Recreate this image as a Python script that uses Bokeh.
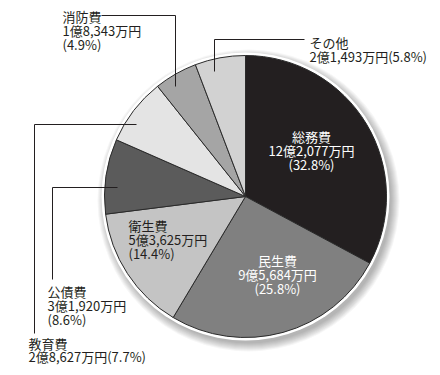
import math
from bokeh.plotting import figure
from bokeh.models import Range1d, ColumnDataSource
from bokeh.core.properties import value
from bokeh.embed import file_html
from bokeh.resources import INLINE

# ---- data ----
categories = ["総務費", "民生費", "衛生費", "公債費", "教育費", "消防費", "その他"]
amounts_man = [122077, 95684, 53625, 31920, 28627, 18343, 21493]   # 万円
percents = [32.8, 25.8, 14.4, 8.6, 7.7, 4.9, 5.8]
colors = ["#231f20", "#808080", "#c4c4c4", "#5b5b5b", "#e4e4e4", "#a5a5a5", "#d2d2d2"]

FONT = value("Noto Sans CJK JP")
W, H = 432, 367

p = figure(width=W, height=H, output_backend="svg", toolbar_location=None,
           x_range=Range1d(0, W), y_range=Range1d(-H, 0),
           min_border=0, outline_line_color=None)
p.axis.visible = False
p.grid.visible = False
p.background_fill_color = "white"

cx, cy, r = 245, -196, 141

# shadow
for i in range(9):
    p.circle(x=cx + 3, y=cy - 4, radius=r + 2 + i, fill_color="black",
             fill_alpha=0.035, line_color=None)
p.circle(x=cx, y=cy, radius=r + 3, fill_color="white", line_color=None)

total = sum(amounts_man)
starts, ends = [], []
acc = 0.0
for v in amounts_man:
    a0 = math.pi / 2 - 2 * math.pi * acc / total
    acc += v
    a1 = math.pi / 2 - 2 * math.pi * acc / total
    starts.append(a0)
    ends.append(a1)

src = ColumnDataSource(dict(start=starts, end=ends, color=colors, cat=categories))
p.wedge(x=cx, y=cy, radius=r, start_angle="start", end_angle="end",
        direction="clock", fill_color="color", line_color="#2a2a2a",
        line_width=1, source=src)


def fmt_amount(v):
    oku, man = divmod(v, 10000)
    return f"{oku}億{man:,}万円"


labels = []
for c, v, pc in zip(categories, amounts_man, percents):
    if c in ("その他", "教育費"):
        labels.append([c, f"{fmt_amount(v)}({pc}%)"])
    else:
        labels.append([c, fmt_amount(v), f"({pc}%)"])

# label layout (x, first-line centre y, align, color)
layout = {
    "総務費": (311, 136, "center", "white"),
    "民生費": (277, 259.5, "center", "white"),
    "衛生費": (128, 225, "left", "#231f20"),
    "公債費": (47, 291, "left", "#231f20"),
    "教育費": (28, 343, "left", "#231f20"),
    "消防費": (62, 15.5, "left", "#231f20"),
    "その他": (309, 42, "left", "#231f20"),
}
LS = 14
for c, lines in zip(categories, labels):
    x, y, al, col = layout[c]
    ls = 13 if c == "教育費" else LS
    p.text(x=[x] * len(lines), y=[-(y + i * ls) for i in range(len(lines))],
           text=lines, text_font=FONT, text_font_size="13px",
           text_align=al, text_baseline="middle", text_color=col)

# leader lines
leaders_x = [[101, 175, 175], [304, 214, 214], [52, 52, 117], [34, 34, 136]]
leaders_y = [[15, 15, 86], [39, 39, 71], [279, 187, 187], [333, 124, 124]]
p.multi_line(xs=leaders_x, ys=[[-v for v in ys] for ys in leaders_y],
             line_color="#231f20", line_width=1)

open("out.html", "w").write(file_html(p, INLINE))
